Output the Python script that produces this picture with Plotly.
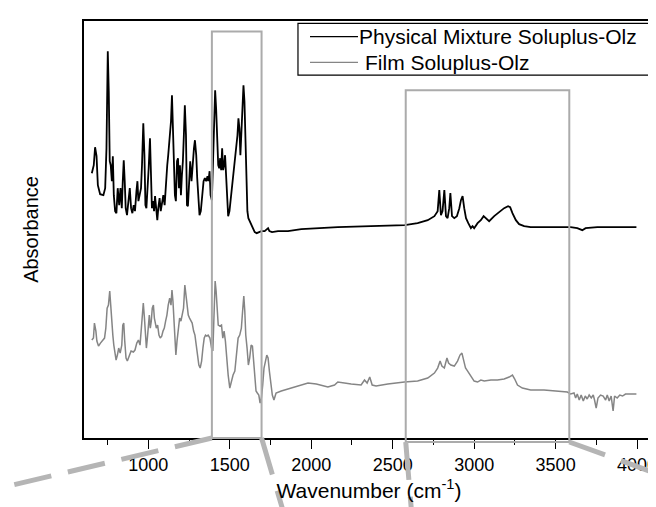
import plotly.graph_objects as go

# ---- data (wavenumber cm-1, absorbance a.u.) ----
mix_x = [653, 665, 673, 682, 690, 704, 724, 735, 743, 751, 757, 763, 769, 776, 782, 788, 796, 804, 812, 821,
         829, 837, 843, 849, 855, 861, 869, 878, 886, 894, 902, 910, 918, 927, 933, 939, 947, 955, 961, 969,
         976, 982, 988, 994, 1002, 1010, 1016, 1022, 1029, 1035, 1041, 1047, 1055, 1061, 1069, 1076, 1084, 1092, 1100, 1108,
         1116, 1122, 1131, 1139, 1145, 1151, 1157, 1163, 1169, 1176, 1182, 1188, 1194, 1200, 1206, 1212, 1218, 1224, 1231, 1237,
         1243, 1249, 1257, 1265, 1273, 1280, 1286, 1294, 1300, 1306, 1314, 1322, 1331, 1339, 1347, 1355, 1363, 1369, 1376, 1382,
         1390, 1396, 1402, 1410, 1416, 1422, 1429, 1435, 1441, 1447, 1453, 1459, 1465, 1471, 1478, 1484, 1490, 1498, 1506, 1514,
         1522, 1531, 1539, 1547, 1553, 1559, 1565, 1571, 1578, 1584, 1590, 1596, 1602, 1608, 1614, 1622, 1633, 1643, 1653, 1665,
         1680, 1694, 1714, 1727, 1735, 1743, 1759, 1796, 1857, 1939, 2041, 2143, 2163, 2366, 2574, 2653, 2715, 2756, 2776, 2786,
         2796, 2806, 2817, 2827, 2837, 2847, 2854, 2864, 2878, 2894, 2909, 2919, 2929, 2939, 2950, 2964, 2980, 2990, 3000, 3021,
         3041, 3058, 3072, 3092, 3123, 3154, 3184, 3208, 3221, 3235, 3256, 3276, 3307, 3347, 3490, 3592, 3633, 3664, 3684, 3756,
         3858, 3939, 3996]
mix_y = [2.65, 2.73, 2.91, 2.82, 2.53, 2.44, 2.43, 2.50, 2.90, 3.87, 3.47, 2.77, 2.73, 2.57, 2.82, 2.43, 2.27, 2.25, 2.50, 2.33,
         2.50, 2.30, 2.57, 2.78, 2.57, 2.30, 2.23, 2.35, 2.50, 2.30, 2.25, 2.33, 2.27, 2.47, 2.57, 2.37, 2.43, 2.50, 2.73, 3.15,
         2.83, 2.33, 2.30, 2.43, 2.70, 3.00, 2.70, 2.30, 2.37, 2.27, 2.42, 2.30, 2.18, 2.30, 2.40, 2.27, 2.38, 2.43, 2.33, 2.60,
         2.73, 2.83, 3.03, 3.17, 3.43, 3.13, 2.77, 2.43, 2.37, 2.77, 2.80, 2.50, 2.73, 2.43, 2.63, 2.77, 3.03, 3.33, 3.03, 2.33,
         2.32, 2.60, 2.77, 2.57, 2.80, 2.90, 2.98, 2.83, 2.60, 2.37, 2.23, 2.27, 2.43, 2.57, 2.60, 2.57, 2.62, 2.57, 2.67, 2.43,
         2.38, 2.67, 3.03, 3.48, 3.30, 3.00, 2.73, 2.70, 2.80, 2.68, 2.90, 2.68, 2.73, 2.83, 2.57, 2.37, 2.22, 2.27, 2.40, 2.50,
         2.63, 2.73, 2.90, 3.03, 3.20, 3.10, 2.83, 3.03, 3.30, 3.53, 3.37, 2.97, 2.50, 2.27, 2.20, 2.17, 2.13, 2.08, 2.06, 2.05,
         2.06, 2.07, 2.07, 2.09, 2.10, 2.07, 2.06, 2.07, 2.07, 2.09, 2.10, 2.11, 2.11, 2.12, 2.13, 2.15, 2.18, 2.22, 2.27, 2.48,
         2.23, 2.27, 2.48, 2.22, 2.20, 2.30, 2.45, 2.22, 2.20, 2.22, 2.30, 2.38, 2.42, 2.30, 2.20, 2.15, 2.10, 2.12, 2.10, 2.15,
         2.18, 2.22, 2.20, 2.17, 2.22, 2.26, 2.30, 2.32, 2.31, 2.25, 2.18, 2.14, 2.12, 2.11, 2.11, 2.11, 2.10, 2.08, 2.10, 2.11,
         2.11, 2.11, 2.11]

film_x = [653, 663, 669, 678, 684, 694, 706, 718, 731, 739, 747, 755, 763, 769, 776, 782, 788, 796, 802, 810,
          818, 827, 837, 843, 849, 855, 863, 871, 882, 894, 908, 918, 929, 939, 949, 957, 963, 969, 976, 982,
          988, 994, 1000, 1006, 1012, 1018, 1024, 1031, 1037, 1043, 1049, 1057, 1065, 1073, 1082, 1090, 1098, 1106, 1114, 1122,
          1131, 1139, 1145, 1151, 1157, 1163, 1169, 1176, 1184, 1192, 1200, 1208, 1216, 1224, 1231, 1237, 1245, 1253, 1261, 1269,
          1278, 1286, 1294, 1302, 1310, 1318, 1327, 1335, 1343, 1351, 1359, 1367, 1378, 1388, 1396, 1402, 1410, 1416, 1422, 1429,
          1439, 1449, 1457, 1465, 1473, 1482, 1490, 1500, 1510, 1520, 1531, 1541, 1551, 1561, 1571, 1580, 1586, 1592, 1598, 1606,
          1614, 1622, 1631, 1639, 1645, 1653, 1661, 1669, 1678, 1686, 1694, 1702, 1710, 1727, 1735, 1743, 1751, 1761, 1771, 1784,
          1816, 1857, 1918, 1980, 2031, 2102, 2143, 2163, 2245, 2306, 2327, 2343, 2359, 2374, 2398, 2470, 2572, 2653, 2715, 2756,
          2776, 2791, 2802, 2817, 2833, 2843, 2857, 2878, 2898, 2913, 2925, 2935, 2947, 2960, 2980, 3000, 3021, 3041, 3062, 3103,
          3143, 3184, 3215, 3235, 3249, 3266, 3296, 3347, 3429, 3511, 3572, 3592, 3613, 3623, 3633, 3645, 3657, 3670, 3682, 3694,
          3706, 3719, 3731, 3739, 3749, 3760, 3776, 3792, 3807, 3817, 3829, 3841, 3853, 3862, 3878, 3894, 3911, 3929, 3960, 3996]
film_y = [0.98, 1.00, 1.15, 1.07, 0.97, 0.92, 0.95, 0.97, 1.00, 1.10, 1.30, 1.33, 1.47, 1.33, 1.10, 1.03, 0.93, 0.82, 0.78, 0.83,
          0.90, 0.85, 0.93, 1.13, 1.15, 0.97, 0.80, 0.77, 0.82, 0.87, 0.86, 0.88, 0.95, 0.98, 0.93, 1.10, 1.23, 1.35, 1.20, 1.00,
          0.90, 1.00, 1.17, 1.23, 1.10, 1.17, 1.30, 1.33, 1.20, 1.13, 1.10, 1.13, 1.03, 1.00, 1.02, 1.07, 1.10, 1.17, 1.23, 1.33,
          1.40, 1.33, 1.48, 1.37, 1.17, 0.97, 0.83, 0.97, 1.13, 1.20, 1.17, 1.25, 1.30, 1.53, 1.43, 1.30, 1.23, 1.20, 1.18, 1.15,
          1.07, 1.03, 0.93, 0.80, 0.73, 0.70, 0.77, 0.90, 1.00, 1.03, 1.02, 1.03, 1.00, 0.90, 0.87, 1.17, 1.57, 1.47, 1.27, 1.13,
          1.12, 1.13, 1.00, 1.07, 0.97, 0.77, 0.63, 0.50, 0.57, 0.63, 0.67, 0.83, 1.00, 1.03, 1.10, 1.30, 1.42, 1.27, 1.03, 0.90,
          0.73, 0.80, 0.93, 0.92, 0.77, 0.57, 0.47, 0.45, 0.43, 0.35, 0.40, 0.53, 0.70, 0.83, 0.80, 0.67, 0.53, 0.43, 0.38, 0.45,
          0.47, 0.49, 0.52, 0.55, 0.54, 0.51, 0.53, 0.56, 0.54, 0.53, 0.58, 0.55, 0.61, 0.53, 0.52, 0.54, 0.56, 0.57, 0.60, 0.65,
          0.70, 0.77, 0.72, 0.70, 0.80, 0.75, 0.73, 0.72, 0.77, 0.83, 0.85, 0.79, 0.70, 0.67, 0.62, 0.57, 0.56, 0.58, 0.57, 0.58,
          0.58, 0.59, 0.61, 0.63, 0.59, 0.53, 0.50, 0.48, 0.48, 0.47, 0.46, 0.44, 0.45, 0.40, 0.44, 0.38, 0.43, 0.37, 0.42, 0.39,
          0.43, 0.40, 0.43, 0.38, 0.30, 0.40, 0.43, 0.42, 0.38, 0.43, 0.37, 0.42, 0.27, 0.42, 0.40, 0.43, 0.42, 0.44, 0.44, 0.44]

series_names = ["Physical Mixture Soluplus-Olz", "Film Soluplus-Olz"]
series_colors = ["black", "#858585"]
x_ticks = [1000, 1500, 2000, 2500, 3000, 3500, 4000]
zoom_regions = [(1390, 1695), (2580, 3584)]  # highlighted wavenumber windows

X_RANGE = [605, 4104]
Y_RANGE = [0, 4.173]
font_family = "Liberation Sans, Arial, sans-serif"

fig = go.Figure()
fig.add_trace(go.Scatter(x=mix_x, y=mix_y, mode="lines", name=series_names[0],
                         line=dict(color=series_colors[0], width=1.8), showlegend=False))
fig.add_trace(go.Scatter(x=film_x, y=film_y, mode="lines", name=series_names[1],
                         line=dict(color=series_colors[1], width=1.5), showlegend=False))

box_col = "#ababab"
# highlight rectangles
fig.add_shape(type="rect", xref="x", yref="paper", x0=zoom_regions[0][0], x1=zoom_regions[0][1],
              y0=0.0, y1=0.975, line=dict(color=box_col, width=2))
fig.add_shape(type="rect", xref="x", yref="paper", x0=zoom_regions[1][0], x1=zoom_regions[1][1],
              y0=-0.0096, y1=0.834, line=dict(color=box_col, width=2))


def px(xv):
    return (xv - X_RANGE[0]) / (X_RANGE[1] - X_RANGE[0])


dash_col = "#b5b5b5"
dash_style = dict(color=dash_col, width=5, dash="38px,17px")
fig.add_shape(type="line", xref="paper", yref="paper", x0=px(zoom_regions[0][0]), y0=0.0,
              x1=-0.135, y1=-0.116, line=dash_style)
fig.add_shape(type="line", xref="paper", yref="paper", x0=px(zoom_regions[0][1]), y0=0.0,
              x1=0.3526, y1=-0.19, line=dash_style)
fig.add_shape(type="line", xref="paper", yref="paper", x0=px(zoom_regions[1][0]), y0=-0.0096,
              x1=0.5754, y1=-0.19, line=dash_style)
fig.add_shape(type="line", xref="paper", yref="paper", x0=px(zoom_regions[1][1]), y0=-0.0096,
              x1=1.02, y1=-0.093, line=dash_style)

# legend box (drawn with shapes + text to match the compact original legend)
fig.add_shape(type="rect", xref="paper", yref="paper", x0=0.3754, x1=0.993, y0=0.870, y1=0.9945,
              line=dict(color="black", width=1.2), fillcolor="white", layer="above")
leg_rows = [0.9626, 0.901]
leg_text_x = [0.4795, 0.490]
for name, col, yy, tx in zip(series_names, series_colors, leg_rows, leg_text_x):
    fig.add_shape(type="line", xref="paper", yref="paper", x0=0.3965, x1=0.4807, y0=yy, y1=yy,
                  line=dict(color=col, width=1.3))
    fig.add_annotation(x=tx, y=yy, xref="paper", yref="paper", text=name, showarrow=False,
                       xanchor="left", yanchor="middle",
                       font=dict(size=21, family=font_family, color="black"))

fig.update_layout(
    width=656, height=507,
    margin=dict(l=76, r=10, t=13, b=77, autoexpand=False),
    paper_bgcolor="white", plot_bgcolor="white",
    font=dict(family=font_family, color="black", size=18),
    showlegend=False,
    xaxis=dict(range=X_RANGE, showgrid=False, zeroline=False,
               showline=True, mirror=True, linecolor="black", linewidth=1.8,
               ticks="outside", ticklen=9, tickwidth=1.3, tickcolor="black",
               tickvals=x_ticks, ticktext=[str(v) for v in x_ticks],
               tickfont=dict(size=18),
               minor=dict(ticks="outside", ticklen=5, tickwidth=1.3, tickcolor="black", dtick=250, tick0=0),
               title=dict(text="Wavenumber (cm<sup>-1</sup>)", font=dict(size=21), standoff=10),
               automargin=False),
    yaxis=dict(range=Y_RANGE, showgrid=False, zeroline=False,
               showline=True, mirror=True, linecolor="black", linewidth=1.8,
               ticks="", showticklabels=False,
               title=dict(text="Absorbance", font=dict(size=20), standoff=38),
               automargin=False),
)

fig.write_html("out.html")
